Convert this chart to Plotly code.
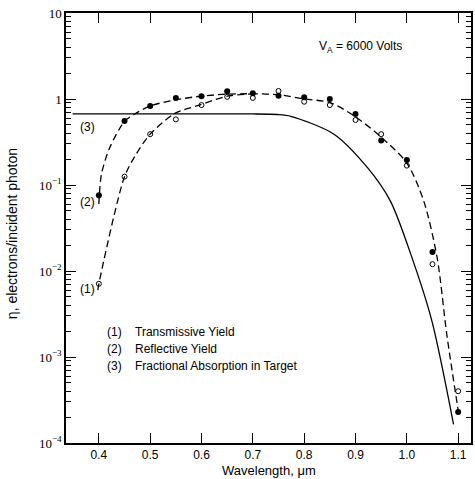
import plotly.graph_objects as go

# Measured points
wl_pts = [0.40, 0.45, 0.50, 0.55, 0.60, 0.65, 0.70, 0.75, 0.80, 0.85, 0.90, 0.95, 1.00, 1.05, 1.10]
refl_pts = [0.076, 0.555, 0.83, 1.03, 1.08, 1.23, 1.17, 1.09, 1.05, 1.0, 0.67, 0.33, 0.195, 0.0166, 2.3e-4]
trans_pts = [0.0071, 0.125, 0.39, 0.58, 0.85, 1.06, 1.03, 1.24, 0.93, 0.85, 0.57, 0.39, 0.168, 0.012, 4.0e-4]

# Smooth fitted curves
refl_fit_x = [0.400, 0.405, 0.421, 0.45, 0.47, 0.50, 0.55, 0.60, 0.65, 0.70, 0.75, 0.80, 0.85, 0.90, 0.95, 1.00, 1.033, 1.059, 1.078, 1.101]
refl_fit_y = [0.06, 0.133, 0.27, 0.55, 0.67, 0.83, 0.98, 1.08, 1.14, 1.15, 1.12, 1.0, 0.91, 0.62, 0.36, 0.18, 0.065, 0.0143, 0.0018, 2.2e-4]
trans_fit_x = [0.398, 0.40, 0.45, 0.473, 0.50, 0.548, 0.596, 0.65, 0.70]
trans_fit_y = [0.006, 0.0071, 0.125, 0.23, 0.39, 0.68, 0.85, 1.08, 1.15]
absorb_x = [0.349, 0.50, 0.60, 0.70, 0.748, 0.774, 0.858, 0.923, 0.968, 1.010, 1.049, 1.091]
absorb_y = [0.67, 0.67, 0.67, 0.67, 0.66, 0.63, 0.39, 0.16, 0.065, 0.0143, 0.0026, 1.65e-4]

x_ticks = [0.4, 0.5, 0.6, 0.7, 0.8, 0.9, 1.0, 1.1]
x_ticktext = ["0.4", "0.5", "0.6", "0.7", "0.8", "0.9", "1.0", "1.1"]
y_ticks = [1e-4, 1e-3, 1e-2, 1e-1, 1, 10]
y_ticktext = ["10<sup>−4</sup>", "10<sup>−3</sup>", "10<sup>−2</sup>", "10<sup>−1</sup>", "1", "10"]
y_minor = [m * 10 ** e for e in range(-4, 1) for m in range(2, 10)]

FONT = "Liberation Sans"
DASH = "7px,4px"

fig = go.Figure()
fig.add_trace(go.Scatter(x=absorb_x, y=absorb_y, mode="lines", line=dict(color="black", width=1.3, shape="spline", smoothing=0.8), showlegend=False))
fig.add_trace(go.Scatter(x=refl_fit_x, y=refl_fit_y, mode="lines", line=dict(color="black", width=1.3, dash=DASH, shape="spline", smoothing=0.8), showlegend=False))
fig.add_trace(go.Scatter(x=trans_fit_x, y=trans_fit_y, mode="lines", line=dict(color="black", width=1.3, dash=DASH, shape="spline", smoothing=0.8), showlegend=False))
fig.add_trace(go.Scatter(x=wl_pts, y=refl_pts, mode="markers", marker=dict(symbol="circle", size=6, color="black"), showlegend=False))
fig.add_trace(go.Scatter(x=wl_pts, y=trans_pts, mode="markers", marker=dict(symbol="circle-open", size=5, color="black", line=dict(width=1)), showlegend=False))

axis_common = dict(showline=True, linecolor="black", linewidth=1.5, mirror="ticks", ticks="inside",
                   tickcolor="black", showgrid=False, zeroline=False)
fig.update_xaxes(range=[0.336, 1.125], tickvals=x_ticks, ticktext=x_ticktext, ticklen=10, tickwidth=1,
                 tickfont=dict(family=FONT, size=12, color="black"), **axis_common)
fig.update_yaxes(type="log", range=[-4, 1], tickvals=y_ticks, ticktext=y_ticktext, ticklen=10, tickwidth=1.2,
                 tickfont=dict(family="Liberation Serif", size=13, color="black"),
                 minor=dict(tickvals=y_minor, ticks="inside", ticklen=5, tickcolor="black", tickwidth=1),
                 **axis_common)

ann = []
def A(text, x, y, xanchor="center", size=12, family=FONT):
    ann.append(dict(text=text, x=x, y=y, xref="paper", yref="paper", showarrow=False, xanchor=xanchor,
                    yanchor="middle", font=dict(family=family, size=size, color="black")))

A("V<sub>A</sub> = 6000 Volts", 0.727, 0.922, size=12)
A("(3)", 0.052, 0.735)
A("(2)", 0.052, 0.560)
A("(1)", 0.054, 0.358)
A("(1)", 0.096, 0.258, xanchor="left")
A("(2)", 0.096, 0.219, xanchor="left")
A("(3)", 0.096, 0.179, xanchor="left")
A("Transmissive Yield", 0.165, 0.258, xanchor="left")
A("Reflective Yield", 0.165, 0.219, xanchor="left")
A("Fractional Absorption in Target", 0.165, 0.179, xanchor="left")
A("Wavelength, μm", 0.5, -0.063, size=13)
ann.append(dict(text="η, electrons/incident photon", x=-0.133, y=0.486, xref="paper", yref="paper",
                showarrow=False, textangle=-90, xanchor="center", yanchor="middle",
                font=dict(family=FONT, size=14, color="black")))

fig.update_layout(width=475, height=479, margin=dict(l=66, r=2, t=13, b=36),
                  plot_bgcolor="white", paper_bgcolor="white", annotations=ann)
fig.write_html("out.html", config={"displayModeBar": False},
               post_script="document.body.style.margin='0';")
